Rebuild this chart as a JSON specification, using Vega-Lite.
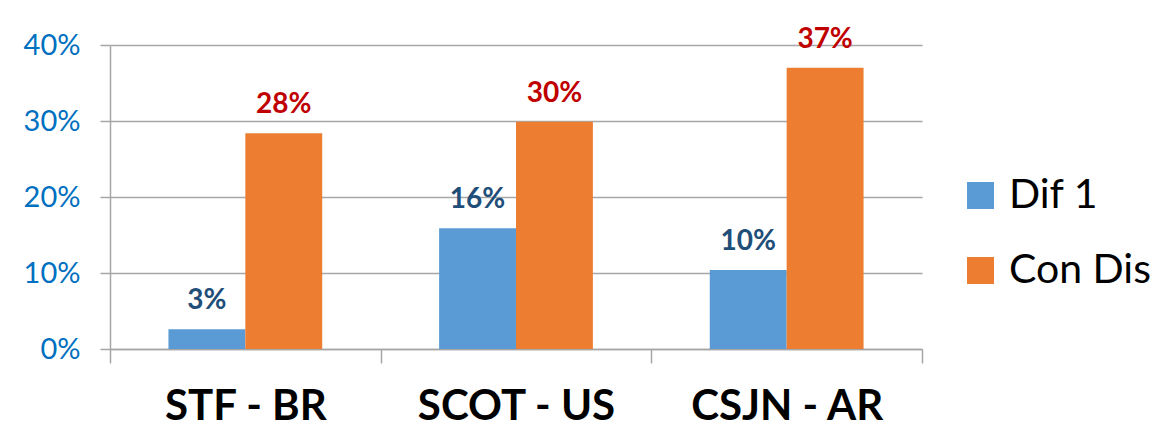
{
  "$schema": "https://vega.github.io/schema/vega-lite/v6.json",
  "autosize": "none",
  "width": 812,
  "height": 304,
  "padding": {"left": 110, "top": 45, "right": 249, "bottom": 96},
  "background": "white",
  "config": {
    "view": {"stroke": null},
    "font": "Lato"
  },
  "data": {
    "values": [
      {"court": "STF - BR", "series": "Dif 1", "value": 0.026},
      {"court": "STF - BR", "series": "Con Dis", "value": 0.284},
      {"court": "SCOT - US", "series": "Dif 1", "value": 0.159},
      {"court": "SCOT - US", "series": "Con Dis", "value": 0.299},
      {"court": "CSJN - AR", "series": "Dif 1", "value": 0.104},
      {"court": "CSJN - AR", "series": "Con Dis", "value": 0.370}
    ]
  },
  "encoding": {
    "x": {
      "field": "court",
      "type": "nominal",
      "sort": ["STF - BR", "SCOT - US", "CSJN - AR"],
      "scale": {"paddingInner": 0, "paddingOuter": 0},
      "axis": {
        "title": null,
        "labelAngle": 0,
        "labelFont": "Lato",
        "labelFontSize": 42,
        "labelFontWeight": "bold",
        "labelColor": "#000000",
        "labelPadding": 23,
        "labelLimit": 400,
        "tickBand": "extent",
        "tickSize": 14,
        "tickColor": "#A6A6A6",
        "tickWidth": 1.5,
        "domainColor": "#A6A6A6",
        "domainWidth": 1.5,
        "grid": false
      }
    },
    "xOffset": {
      "field": "series",
      "sort": ["Dif 1", "Con Dis"],
      "scale": {"paddingInner": 0, "paddingOuter": 0.76}
    },
    "y": {
      "field": "value",
      "type": "quantitative",
      "scale": {"domain": [0, 0.4], "nice": false},
      "axis": {
        "title": null,
        "values": [0, 0.1, 0.2, 0.3, 0.4],
        "format": ".0%",
        "labelFont": "Lato",
        "labelFontSize": 29,
        "labelColor": "#0070C0",
        "labelPadding": 20,
        "tickSize": 10,
        "tickColor": "#A6A6A6",
        "tickWidth": 1.5,
        "domainColor": "#A6A6A6",
        "domainWidth": 1.5,
        "gridColor": "#A6A6A6",
        "gridWidth": 1.5
      }
    }
  },
  "layer": [
    {
      "mark": {"type": "bar"},
      "encoding": {
        "color": {
          "field": "series",
          "type": "nominal",
          "sort": ["Dif 1", "Con Dis"],
          "scale": {"domain": ["Dif 1", "Con Dis"], "range": ["#5B9BD5", "#ED7D31"]},
          "legend": {
            "title": null,
            "orient": "none",
            "legendX": 850,
            "legendY": 130,
            "padding": 0,
            "symbolType": "square",
            "symbolSize": 729,
            "symbolStrokeWidth": 0,
            "labelFont": "Lato",
            "labelFontSize": 41,
            "labelColor": "#000000",
            "labelOffset": 8,
            "rowPadding": 33,
            "labelLimit": 300
          }
        }
      }
    },
    {
      "mark": {"type": "text", "baseline": "alphabetic", "dy": -20, "font": "Lato", "fontSize": 28, "fontWeight": "bold"},
      "encoding": {
        "text": {"field": "value", "type": "quantitative", "format": ".0%"},
        "color": {
          "field": "series",
          "type": "nominal",
          "scale": {"domain": ["Dif 1", "Con Dis"], "range": ["#1F4E79", "#C00000"]},
          "legend": null
        }
      }
    }
  ],
  "resolve": {"scale": {"color": "independent"}}
}
